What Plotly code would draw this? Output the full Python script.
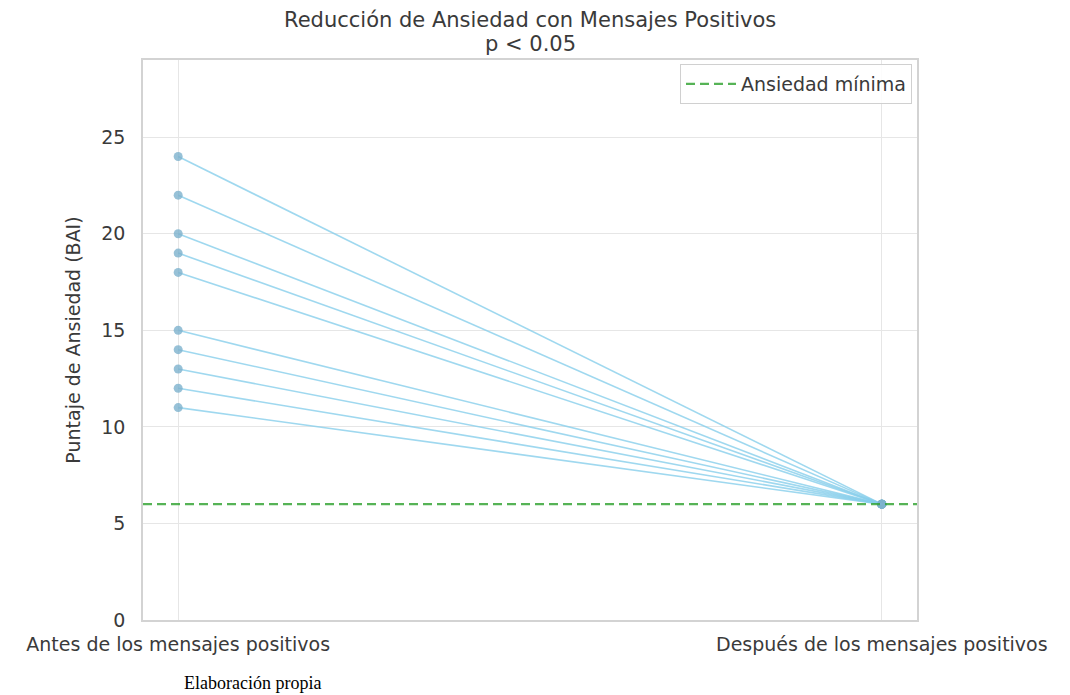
import plotly.graph_objects as go

# Data
momentos = ["Antes de los mensajes positivos", "Después de los mensajes positivos"]
antes = [24, 22, 20, 19, 18, 15, 14, 13, 12, 11]
despues = [6, 6, 6, 6, 6, 6, 6, 6, 6, 6]
ansiedad_minima = 6
y_ticks = [0, 5, 10, 15, 20, 25]

# page body has an 8px margin: figure origin sits at (8, 8) of the window
OFF = 8
WIN_W, WIN_H = 1070, 695
W, H = WIN_W - OFF, WIN_H - OFF
# plot frame in window pixels
FL, FR, FT, FB = 143, 917, 60, 620
ML, MR, MT, MB = FL - OFF, WIN_W - FR, FT - OFF, WIN_H - FB

fig = go.Figure()

for a, d in zip(antes, despues):
    fig.add_trace(go.Scatter(
        x=[0, 1], y=[a, d], mode="lines+markers",
        line=dict(color="rgba(135,206,235,0.8)", width=1.6),
        marker=dict(color="rgba(125,178,205,0.8)", size=9),
        showlegend=False, hoverinfo="skip",
    ))

fig.add_trace(go.Scatter(
    x=[-0.05, 1.05], y=[ansiedad_minima, ansiedad_minima], mode="lines",
    line=dict(color="rgba(44,160,44,0.8)", width=2.4, dash="9px,5px"),
    name="Ansiedad mínima", showlegend=True,
))

font_main = "DejaVu Sans"
TXT = "#3a3a3a"
fig.update_layout(
    width=W, height=H,
    margin=dict(l=ML, r=MR, t=MT, b=MB),
    paper_bgcolor="white", plot_bgcolor="white",
    font=dict(family=font_main, size=19, color=TXT),
    showlegend=True,
    legend=dict(
        x=(912 - FL) / (FR - FL), xanchor="right", y=(FB - 64) / (FB - FT), yanchor="top",
        bordercolor="#d0d0d0", borderwidth=1, bgcolor="rgba(255,255,255,0.85)",
        font=dict(size=19, color=TXT), itemwidth=50,
    ),
    xaxis=dict(
        range=[-0.05, 1.05], tickvals=[0, 1], ticktext=momentos,
        showgrid=True, gridcolor="#e6e6e6", gridwidth=1.2,
        showline=True, mirror=True, linecolor="#d3d3d3", linewidth=1.5,
        zeroline=False, ticks="", ticklabelstandoff=6,
        tickfont=dict(size=19, color=TXT),
    ),
    yaxis=dict(
        range=[0, 29], tickvals=y_ticks,
        showgrid=True, gridcolor="#e6e6e6", gridwidth=1.2,
        showline=True, mirror=True, linecolor="#d3d3d3", linewidth=1.5,
        zeroline=False, ticks="", ticklabelstandoff=12,
        tickfont=dict(size=19, color=TXT),
        title=dict(text="Puntaje de Ansiedad (BAI)", standoff=16,
                   font=dict(size=19, color=TXT)),
    ),
)

def py(pix):
    return (FB - pix) / (FB - FT)

def px(pix):
    return (pix - FL) / (FR - FL)

fig.add_annotation(text="Reducción de Ansiedad con Mensajes Positivos",
                   xref="paper", yref="paper", x=0.5, y=py(20),
                   xanchor="center", yanchor="middle", showarrow=False,
                   font=dict(size=21, color=TXT))
fig.add_annotation(text="p &lt; 0.05",
                   xref="paper", yref="paper", x=0.5, y=py(44),
                   xanchor="center", yanchor="middle", showarrow=False,
                   font=dict(size=21, color=TXT))
fig.add_annotation(text="Elaboración propia",
                   xref="paper", yref="paper", x=px(182), y=py(683),
                   xanchor="left", yanchor="middle", showarrow=False,
                   font=dict(family="Liberation Serif", size=18, color="#000000"))

fig.write_html("out.html")
